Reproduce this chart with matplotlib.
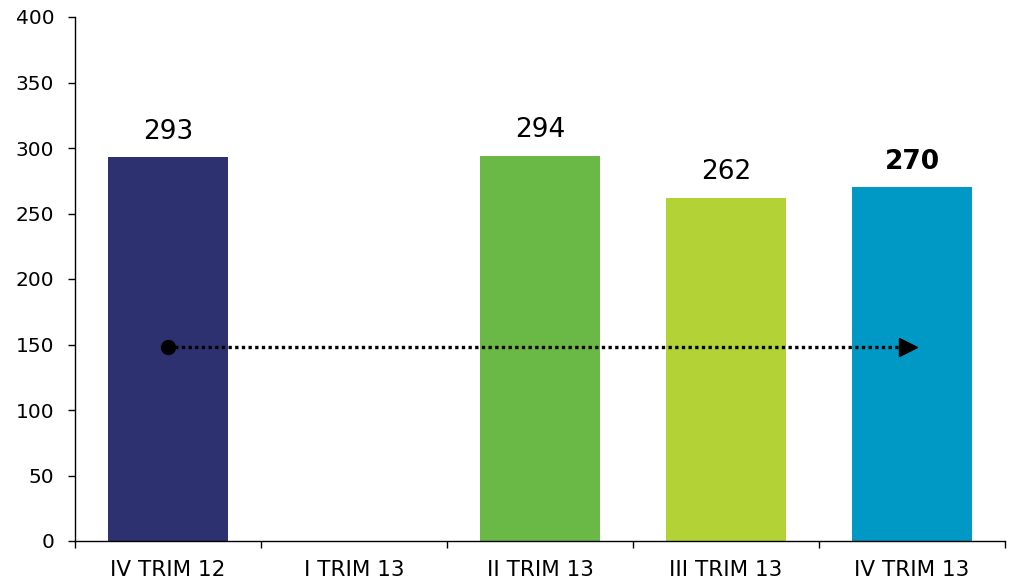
import numpy as np
import matplotlib

matplotlib.use("Agg")
import matplotlib.pyplot as plt  # noqa: E402

# data
categories = ["IV TRIM 12", "I TRIM 13", "II TRIM 13", "III TRIM 13", "IV TRIM 13"]
values = [293, np.nan, 294, 262, 270]
labels = ["293", "", "294", "262", "270"]
bold = [False, False, False, False, True]
colors = ["#2E3170", "#FFFFFF", "#6AB946", "#B2D235", "#0099C6"]
trend_start, trend_end = 0, 4
trend_level = 148
y_ticks = list(range(0, 401, 50))

plt.rcParams.update({
    "font.family": ["DejaVu Sans"],
    "font.size": 14.5,
})

fig = plt.figure(figsize=(10.11, 5.82), dpi=100)
ax = fig.add_axes([75 / 1011, 41 / 582, 930 / 1011, 524 / 582])

x = np.arange(len(categories))
heights = [0 if np.isnan(v) else v for v in values]
ax.bar(x, heights, width=0.65, color=colors, zorder=2)

for xi, v, lab, b in zip(x, values, labels, bold):
    if np.isnan(v):
        continue
    ax.annotate(lab, (xi, v), xytext=(0, 9), textcoords="offset points",
                ha="center", va="bottom", fontsize=19,
                fontweight="bold" if b else "normal")

# dotted trend arrow
ax.plot([trend_start, trend_end - 0.03], [trend_level, trend_level],
        ls=(0, (1, 1)), lw=2.4, color="black", dash_capstyle="butt", zorder=3)
ax.plot([trend_start], [trend_level], "o", color="black", ms=10, zorder=4)
ax.plot([trend_end - 0.02], [trend_level], ">", color="black", ms=13, zorder=4)

ax.set_xlim(-0.5, len(categories) - 0.5)
ax.set_ylim(0, 400)
ax.set_yticks(y_ticks)
ax.set_xticks(x)
ax.set_xticklabels(categories, fontsize=15.5)
ax.set_xticks(np.arange(len(categories) + 1) - 0.5, minor=True)
ax.tick_params(axis="x", which="major", length=0, pad=14)
ax.tick_params(axis="x", which="minor", length=5, width=1)
ax.tick_params(axis="y", length=5, width=1, pad=10)

for side in ("top", "right"):
    ax.spines[side].set_visible(False)
for side in ("left", "bottom"):
    ax.spines[side].set_linewidth(1)

fig.savefig("out.png", dpi=100, facecolor="white")
